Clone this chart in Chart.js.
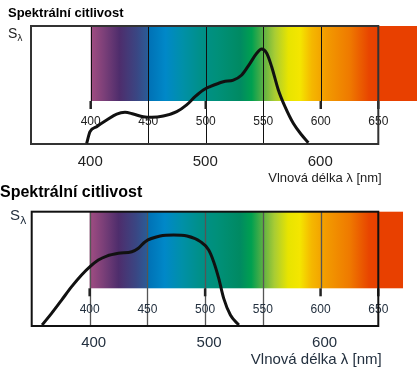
<!DOCTYPE html>
<html><head><meta charset="utf-8">
<script src="https://cdn.jsdelivr.net/npm/chart.js@4/dist/chart.umd.min.js"></script>
<style>
html,body{margin:0;padding:0;background:#fff;width:417px;height:380px;overflow:hidden}
canvas{position:absolute;left:0;display:block}
#c1{top:0}
#c2{top:178px}
</style></head><body>
<canvas id="c1" width="417" height="190"></canvas>
<canvas id="c2" width="417" height="202"></canvas>
<script>
// ---- data ----
const titleText = "Spektrální citlivost";
const axisTitleText = "Vlnová délka λ [nm]";
const yLabelMain = "S";
const yLabelSub = "λ";
const axisTickLabels = [400, 500, 600];
const innerTickLabels = [400, 450, 500, 550, 600, 650];
const majorTicks = [400, 500, 600, 650];

const topWavelengths = [396.5, 399.4, 405.2, 413.9, 422.6, 429.8, 437.0, 445.7, 453.0, 463.1, 474.8, 483.4, 490.7, 497.9, 503.7, 515.3, 524.0, 531.3, 538.5, 544.3, 548.6, 553.0, 557.3, 563.1, 568.9, 576.1, 583.4, 589.2];
const topSensitivity = [0.6, 10.4, 14.7, 20.3, 25.4, 26.9, 25.4, 23.1, 22.6, 23.7, 27.4, 33.1, 40.1, 45.8, 48.6, 52.8, 54.2, 58.5, 68.4, 76.9, 80.5, 76.9, 65.5, 45.8, 31.6, 17.5, 7.6, 1.1];

const bottomWavelengths = [358.8, 367.0, 375.7, 384.4, 393.0, 400.3, 407.5, 414.8, 424.9, 436.5, 442.2, 448.1, 461.1, 472.7, 484.3, 495.9, 503.1, 507.4, 511.8, 516.1, 521.9, 529.2];
const bottomSensitivity = [0.9, 11.1, 22.7, 34.4, 44.6, 51.9, 57.7, 61.2, 63.6, 65.0, 68.0, 73.8, 78.7, 79.6, 78.7, 73.8, 66.5, 56.3, 41.7, 24.2, 9.6, 0.9];

// spectrum colour band (wavelength -> colour)
const spectrumNm = [400, 412, 425, 440, 449, 451, 465, 480, 495, 510, 530, 540, 550, 560, 572, 582, 592, 605, 625, 642, 650];
const spectrumColors = ['#a24d82', '#7a3f78', '#4e2d6c', '#3a4683', '#2c5a95', '#0072b6', '#0088c8', '#0090a8', '#00908a', '#00907a', '#008a62', '#00a050', '#5cb044', '#a8cc34', '#e8e400', '#f4e600', '#f5b800', '#f29a00', '#ef7a00', '#e84500', '#e84000'];

function panelPlugin(o) {
  return {
    id: 'panel',
    beforeDatasetsDraw(chart) {
      const ctx = chart.ctx, a = chart.chartArea, xs = chart.scales.x;
      const x400 = xs.getPixelForValue(400), x650 = xs.getPixelForValue(650);
      const gBot = a.top + o.gradH;
      ctx.save();
      const g = ctx.createLinearGradient(x400, 0, x650, 0);
      spectrumNm.forEach((n, i) => g.addColorStop((n - 400) / 250, spectrumColors[i]));
      ctx.fillStyle = g;
      ctx.fillRect(x400, a.top, x650 - x400, o.gradH);
      ctx.fillStyle = '#e84000';
      const xe = xs.getPixelForValue(o.specEnd);
      ctx.fillRect(x650, a.top, xe - x650, o.gradH);
      // grid lines
      ctx.strokeStyle = o.lineColor; ctx.lineWidth = o.lineW;
      o.fullLines.forEach(v => { const x = Math.round(xs.getPixelForValue(v)) + 0.5; ctx.beginPath(); ctx.moveTo(x, a.top); ctx.lineTo(x, a.bottom); ctx.stroke(); });
      o.shortLines.forEach(v => { const x = Math.round(xs.getPixelForValue(v)) + 0.5; ctx.beginPath(); ctx.moveTo(x, a.top); ctx.lineTo(x, gBot); ctx.stroke(); });
      // thick ticks
      ctx.strokeStyle = '#222'; ctx.lineWidth = 2.5;
      majorTicks.forEach(v => { const x = xs.getPixelForValue(v); ctx.beginPath(); ctx.moveTo(x, gBot); ctx.lineTo(x, gBot + 8); ctx.stroke(); });
      // inner labels
      ctx.fillStyle = o.textColor; ctx.font = '12px "Liberation Sans", Arial, sans-serif';
      ctx.textAlign = 'center'; ctx.textBaseline = 'middle';
      innerTickLabels.forEach(v => ctx.fillText(String(v), xs.getPixelForValue(v), gBot + 21));
      // frame
      ctx.strokeStyle = o.frameColor; ctx.lineWidth = 2;
      ctx.strokeRect(a.left, a.top, a.right - a.left, a.bottom - a.top);
      // axis labels
      ctx.font = '15px "Liberation Sans", Arial, sans-serif';
      axisTickLabels.forEach(v => ctx.fillText(String(v), xs.getPixelForValue(v) + o.tickOff, o.tickY));
      ctx.font = o.axFont + ' "Liberation Sans", Arial, sans-serif';
      ctx.textAlign = 'right';
      ctx.fillText(axisTitleText, o.axRight, o.axY);
      // title
      ctx.fillStyle = '#000'; ctx.textAlign = 'left'; ctx.textBaseline = 'alphabetic';
      ctx.font = 'bold ' + o.titleFont + ' "Liberation Sans", Arial, sans-serif';
      ctx.fillText(titleText, o.titleX, o.titleY);
      // S lambda
      ctx.fillStyle = o.textColor;
      ctx.font = o.sFont + ' "Liberation Sans", Arial, sans-serif';
      ctx.fillText(yLabelMain, o.sX, o.sY);
      const w = ctx.measureText(yLabelMain).width;
      ctx.font = o.lFont + ' "DejaVu Sans", sans-serif';
      ctx.fillText(yLabelSub, o.sX + w, o.lY);
      ctx.restore();
    }
  };
}

function makePanel(id, xs, ys, o) {
  return new Chart(document.getElementById(id), {
    type: 'line',
    data: { datasets: [{ data: xs.map((x, i) => ({ x: x, y: ys[i] })), borderColor: '#111', borderWidth: 3, pointRadius: 0, cubicInterpolationMode: 'monotone', fill: false }] },
    options: {
      responsive: false, animation: false,
      layout: { padding: o.pad },
      plugins: { legend: { display: false }, tooltip: { enabled: false } },
      scales: {
        x: { type: 'linear', min: o.xMin, max: 650, display: false },
        y: { min: 0, max: 100, display: false }
      }
    },
    plugins: [panelPlugin(o)]
  });
}

makePanel('c1', topWavelengths, topSensitivity, {
  pad: { left: 31, right: 38.7, top: 26, bottom: 46 }, xMin: 348.1, gradH: 75, specEnd: 684,
  lineColor: '#111', lineW: 1, fullLines: [450, 500, 550], shortLines: [400, 600], frameColor: '#333',
  textColor: '#222', tickY: 162, tickOff: -0.5, axFont: '13px', axRight: 381.7, axY: 178.5,
  titleFont: '13px', titleX: 8, titleY: 17, sFont: '14px', sX: 8, sY: 38, lFont: '9px', lY: 41
});
makePanel('c2', bottomWavelengths, bottomSensitivity, {
  pad: { left: 31.7, right: 38.7, top: 33.7, bottom: 54 }, xMin: 349.8, gradH: 76.6, specEnd: 671.4,
  lineColor: '#555', lineW: 1.3, fullLines: [400, 450, 500, 550], shortLines: [600], frameColor: '#111',
  textColor: '#23303f', tickY: 165, tickOff: 4, axFont: '15px', axRight: 381.7, axY: 182,
  titleFont: '16px', titleX: 0, titleY: 19, sFont: '15px', sX: 10, sY: 42, lFont: '11px', lY: 46
});
</script>
</body></html>
